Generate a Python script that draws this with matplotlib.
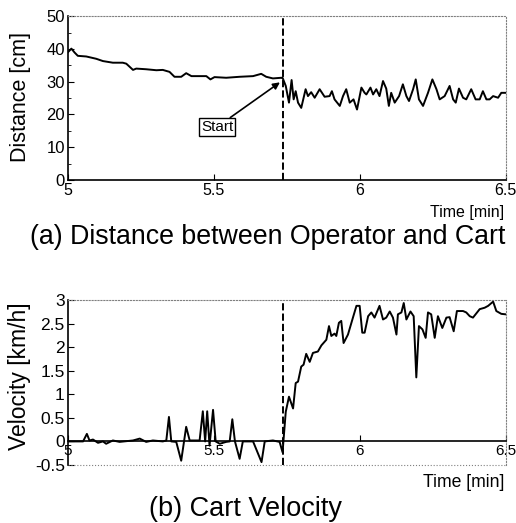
import matplotlib
matplotlib.use("Agg")
import matplotlib.pyplot as plt
from matplotlib.ticker import MultipleLocator, FormatStrFormatter

plt.rcParams['font.family'] = ['Liberation Sans', 'DejaVu Sans']
plt.rcParams['axes.unicode_minus'] = False

# distance between operator and cart
t_dist = [5.000, 5.013, 5.024, 5.035, 5.064, 5.098, 5.121, 5.155, 5.189, 5.201,
          5.224, 5.235, 5.269, 5.304, 5.326, 5.349, 5.366, 5.389, 5.406, 5.424,
          5.452, 5.475, 5.489, 5.503, 5.543, 5.589, 5.635, 5.663, 5.680, 5.703,
          5.732, 5.736, 5.747, 5.758, 5.767, 5.774, 5.781, 5.789, 5.800, 5.815,
          5.823, 5.834, 5.846, 5.863, 5.880, 5.897, 5.905, 5.914, 5.932, 5.943,
          5.954, 5.966, 5.979, 5.991, 6.006, 6.017, 6.023, 6.037, 6.046, 6.057,
          6.068, 6.080, 6.091, 6.100, 6.108, 6.120, 6.135, 6.148, 6.160, 6.169,
          6.183, 6.192, 6.203, 6.217, 6.234, 6.249, 6.263, 6.274, 6.291, 6.308,
          6.320, 6.329, 6.340, 6.354, 6.365, 6.382, 6.397, 6.411, 6.422, 6.434,
          6.445, 6.457, 6.474, 6.485, 6.500]
distance = [38.9, 40.1, 38.9, 37.9, 37.7, 37.0, 36.3, 35.8, 35.8, 35.5,
            33.6, 34.0, 33.8, 33.5, 33.6, 33.0, 31.5, 31.5, 32.6, 31.7,
            31.7, 31.7, 30.7, 31.4, 31.2, 31.5, 31.7, 32.4, 31.5, 31.0,
            31.2, 31.2, 28.7, 23.6, 30.5, 24.6, 27.1, 23.6, 22.0, 27.7,
            25.6, 26.8, 25.1, 27.7, 25.4, 25.6, 27.1, 24.6, 22.6, 25.6,
            27.7, 23.6, 24.6, 21.5, 28.2, 26.6, 26.1, 28.2, 26.1, 27.7,
            25.6, 30.2, 27.9, 22.6, 26.6, 23.6, 25.6, 29.2, 25.6, 24.1,
            27.7, 30.7, 24.6, 22.6, 26.6, 30.7, 27.7, 24.6, 25.6, 28.7,
            24.6, 23.6, 27.9, 25.1, 24.6, 27.7, 24.6, 24.6, 27.1, 24.6,
            24.6, 25.6, 25.1, 26.6, 26.6]

# cart velocity
t_vel = [5.000, 5.053, 5.066, 5.075, 5.087, 5.104, 5.121, 5.132, 5.155, 5.178,
         5.224, 5.247, 5.269, 5.292, 5.326, 5.338, 5.347, 5.355, 5.372, 5.389,
         5.406, 5.418, 5.452, 5.463, 5.471, 5.478, 5.486, 5.498, 5.507, 5.521,
         5.543, 5.555, 5.564, 5.573, 5.589, 5.600, 5.635, 5.664, 5.675, 5.703,
         5.726, 5.736, 5.741, 5.747, 5.758, 5.772, 5.781, 5.789, 5.800, 5.808,
         5.817, 5.829, 5.840, 5.857, 5.869, 5.886, 5.895, 5.903, 5.914, 5.920,
         5.929, 5.937, 5.945, 5.960, 5.977, 5.989, 6.000, 6.009, 6.017, 6.029,
         6.040, 6.051, 6.068, 6.080, 6.091, 6.103, 6.114, 6.126, 6.131, 6.143,
         6.151, 6.160, 6.174, 6.185, 6.194, 6.203, 6.215, 6.226, 6.234, 6.245,
         6.257, 6.268, 6.283, 6.297, 6.308, 6.322, 6.333, 6.354, 6.365, 6.377,
         6.388, 6.411, 6.428, 6.440, 6.457, 6.468, 6.485, 6.500]
velocity = [0, 0, 0.16, 0.02, 0.04, -0.03, 0, -0.05, 0.02, -0.01,
            0.02, 0.06, -0.01, 0.02, 0, 0.02, 0.52, 0, -0.01, -0.41,
            0.31, 0.02, 0.02, 0.64, 0, 0.64, -0.09, 0.67, 0, -0.05,
            -0.01, 0, 0.47, 0, -0.37, 0, 0, -0.44, 0, 0.02,
            -0.01, -0.23, 0.16, 0.63, 0.95, 0.70, 1.24, 1.27, 1.59, 1.63,
            1.86, 1.69, 1.88, 1.91, 2.04, 2.16, 2.45, 2.24, 2.29, 2.24,
            2.52, 2.56, 2.09, 2.27, 2.63, 2.88, 2.88, 2.31, 2.31, 2.66,
            2.74, 2.63, 2.88, 2.59, 2.63, 2.76, 2.63, 2.27, 2.70, 2.74,
            2.94, 2.59, 2.76, 2.66, 1.36, 2.45, 2.38, 2.20, 2.74, 2.70,
            2.20, 2.66, 2.41, 2.63, 2.64, 2.34, 2.77, 2.77, 2.74, 2.66,
            2.63, 2.81, 2.84, 2.88, 2.97, 2.77, 2.71, 2.70]

t_start = 5.737


def dotted_box(ax, size):
    for s in ['top', 'right']:
        ax.spines[s].set_linestyle(':')
        ax.spines[s].set_color('gray')
        ax.spines[s].set_linewidth(0.8)
    ax.spines['left'].set_linewidth(1.2)
    ax.tick_params(direction='in', length=4, labelsize=size, pad=2)
    ax.tick_params(which='minor', direction='in', length=2.5)


fig = plt.figure(figsize=(5.16, 5.23), dpi=100)

# (a) distance
ax1 = fig.add_axes([0.131, 0.656, 0.849, 0.313])
ax1.plot(t_dist, distance, color='black', lw=1.4)
ax1.axvline(t_start, color='black', ls='--', lw=1.4)
ax1.set_xlim(5, 6.5)
ax1.set_ylim(0, 50)
ax1.set_xticks([5, 5.5, 6, 6.5])
ax1.xaxis.set_major_formatter(FormatStrFormatter('%g'))
ax1.yaxis.set_major_locator(MultipleLocator(10))
ax1.yaxis.set_minor_locator(MultipleLocator(5))
dotted_box(ax1, 12)
ax1.tick_params(axis='x', labelsize=11.5)
ax1.spines['bottom'].set_linewidth(1.2)
ax1.annotate('Start', xy=(5.727, 29.8), xytext=(5.512, 16.2),
             fontsize=11, ha='center', va='center',
             bbox=dict(boxstyle='square,pad=0.12', fc='white', ec='black', lw=1),
             arrowprops=dict(arrowstyle='-|>', color='black', lw=1.2,
                             shrinkA=0, shrinkB=0, mutation_scale=10))
fig.text(0.039, 0.814, 'Distance [cm]', fontsize=15.5, rotation=90,
         ha='center', va='center')
fig.text(0.977, 0.593, 'Time [min]', fontsize=11.5, ha='right', va='center')
fig.text(0.519, 0.547, '(a) Distance between Operator and Cart', fontsize=19.3,
         ha='center', va='center')

# (b) velocity
ax2 = fig.add_axes([0.131, 0.111, 0.849, 0.315])
ax2.plot(t_vel, velocity, color='black', lw=1.4)
ax2.axvline(t_start, color='black', ls='--', lw=1.4)
ax2.set_xlim(5, 6.5)
ax2.set_ylim(-0.5, 3)
ax2.set_xticks([5, 5.5, 6, 6.5])
ax2.xaxis.set_major_formatter(FormatStrFormatter('%g'))
ax2.yaxis.set_major_locator(MultipleLocator(0.5))
ax2.yaxis.set_major_formatter(FormatStrFormatter('%g'))
dotted_box(ax2, 12.5)
ax2.tick_params(axis='x', labelsize=11)
ax2.spines['bottom'].set_position(('data', 0))
ax2.spines['bottom'].set_linewidth(1.2)
ax2.axhline(-0.5, color='gray', ls=':', lw=0.8, clip_on=False)
fig.text(0.037, 0.28, 'Velocity [km/h]', fontsize=16.5, rotation=90,
         ha='center', va='center')
fig.text(0.977, 0.077, 'Time [min]', fontsize=12.7, ha='right', va='center')
fig.text(0.475, 0.013, '(b) Cart Velocity', fontsize=19.5,
         ha='center', va='baseline')

fig.savefig('out.png', dpi=100)
